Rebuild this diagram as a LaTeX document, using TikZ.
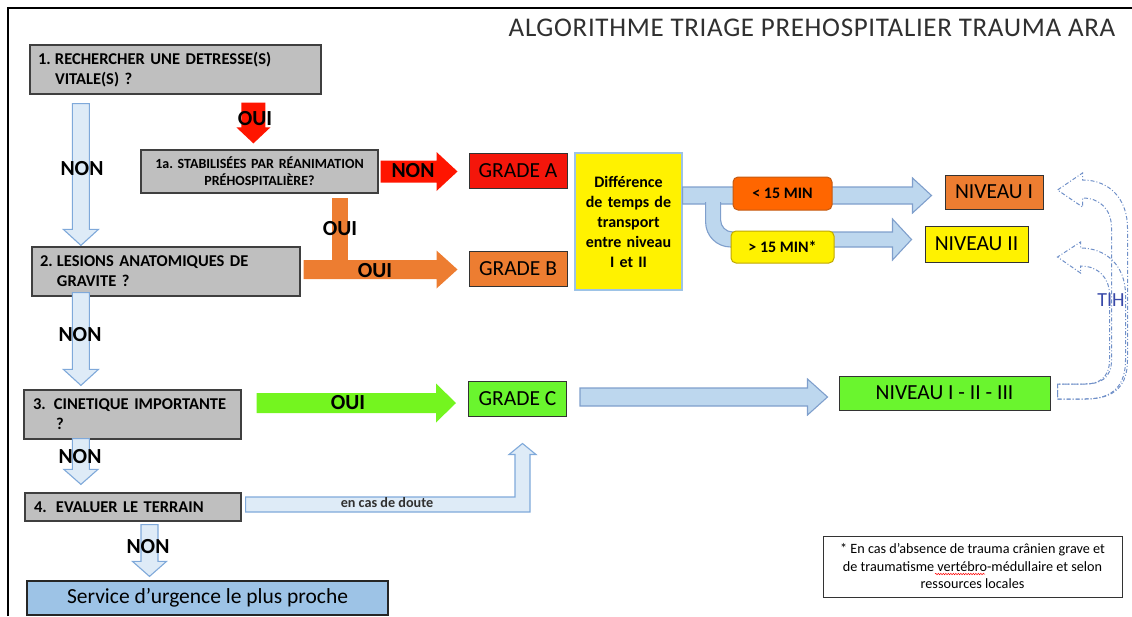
\documentclass[tikz,border=0pt]{standalone}
\usepackage{fontspec}
\setmainfont{Carlito}
\newfontfamily\titlefont[LetterSpace=2.5]{Carlito}
\usepackage{tikz}
\usetikzlibrary{calc, positioning, decorations.pathmorphing}
\frenchspacing

\definecolor{qgray}{HTML}{BFBFBF}
\definecolor{qedge}{HTML}{3F3F3F}
\definecolor{redbox}{HTML}{F4160B}
\definecolor{arrred}{HTML}{FF1500}
\definecolor{gorange}{HTML}{ED7D31}
\definecolor{greenbox}{HTML}{6AF52E}
\definecolor{arrgreen}{HTML}{74F51F}
\definecolor{diffedge}{HTML}{9DC3E6}
\definecolor{ltfill}{HTML}{FF6600}
\definecolor{ltedge}{HTML}{C55A11}
\definecolor{gtedge}{HTML}{BFA800}
\definecolor{palefill}{HTML}{DEEBF7}
\definecolor{paleedge}{HTML}{7FA9DA}
\definecolor{bluefill}{HTML}{BDD7EE}
\definecolor{blueedge}{HTML}{7F9FCC}
\definecolor{servfill}{HTML}{9DC3E6}
\definecolor{tihblue}{HTML}{3949A8}
\definecolor{tihline}{HTML}{7090C8}
\definecolor{titlegray}{HTML}{303030}

% block arrows: style, start, tip, shaft half width, head half width, head length
\newcommand{\hblock}[6]{%
  \path[#1] let \p1=(#2), \p2=(#3) in
    (\x1,\y1+#4) -- (\x2-#6,\y1+#4) -- (\x2-#6,\y1+#5) -- (\x2,\y1)
    -- (\x2-#6,\y1-#5) -- (\x2-#6,\y1-#4) -- (\x1,\y1-#4) -- cycle;}
\newcommand{\vblock}[6]{%
  \path[#1] let \p1=(#2), \p2=(#3) in
    (\x1-#4,\y1) -- (\x1-#4,\y2+#6) -- (\x1-#5,\y2+#6) -- (\x1,\y2)
    -- (\x1+#5,\y2+#6) -- (\x1+#4,\y2+#6) -- (\x1+#4,\y1) -- cycle;}

\begin{document}
\begin{tikzpicture}[x=1pt, y=-1pt,
    qbox/.style={draw=qedge, fill=qgray, line width=1.2pt, inner xsep=8pt, inner ysep=0pt,
      minimum height=49pt, align=left, font=\bfseries\fontsize{16.5}{20}\selectfont},
    grade/.style={draw=black!80, line width=1pt, minimum width=98pt, minimum height=35pt,
      inner sep=0pt, font=\fontsize{21.5}{21.5}\selectfont},
    lbl/.style={inner sep=0pt, font=\bfseries\fontsize{21.5}{21.5}\selectfont},
    timebox/.style={rounded corners=5pt, line width=1pt, minimum width=99pt, minimum height=33pt,
      inner sep=0pt, font=\bfseries\fontsize{16}{16}\selectfont},
    palearrow/.style={fill=palefill, draw=paleedge, line width=1.1pt},
    bluearrow/.style={fill=bluefill, draw=blueedge, line width=1.1pt},
    tiharrow/.style={draw=tihline, line width=1pt, dash pattern=on 4pt off 2pt on 1pt off 2pt},
  ]
  \useasboundingbox (0,0) rectangle (1132,616);
  \draw[line width=2pt] (8,616) -- (8,8) -- (1132,8);
  \node[font=\titlefont\fontsize{27}{27}\selectfont, text=titlegray, inner sep=0pt] (title) at (812,28)
    {ALGORITHME TRIAGE PREHOSPITALIER TRAUMA ARA};

  % questions
  \node[qbox, text width=275pt] (b1) at (175.5,69.5)
    {\makebox[17pt][l]{1.}RECHERCHER UNE DETRESSE(S)\\\hspace*{17pt}VITALE(S) ?};
  \node[qbox, text width=221pt, minimum height=43pt, align=center,
    font=\bfseries\fontsize{14}{17}\selectfont] (b1a) at (259.5,171.5)
    {1a. STABILISÉES PAR RÉANIMATION\\PRÉHOSPITALIÈRE?};
  \node[qbox, text width=252pt] (b2) at (166,271.5)
    {\makebox[17pt][l]{2.}LESIONS ANATOMIQUES DE\\\hspace*{17pt}GRAVITE ?};
  \node[qbox, text width=199pt, inner xsep=9pt] (b3) at (132.5,414.5)
    {\makebox[21pt][l]{3.}CINETIQUE IMPORTANTE\\\hspace*{23pt}?};
  \node[qbox, text width=198pt, inner xsep=9pt, minimum height=28pt] (b4) at (133,507)
    {\makebox[22pt][l]{4.}EVALUER LE TERRAIN};
  \node[draw=black!85, fill=servfill, line width=1.2pt, minimum width=361pt, minimum height=34pt,
    inner sep=0pt, font=\fontsize{21.5}{21.5}\selectfont] (serv) at (207.5,598)
    {Service d’urgence le plus proche};

  % grades
  \node[grade, fill=redbox] (gA) at (518,170.5) {GRADE A};
  \node[grade, fill=gorange] (gB) at (518,269) {GRADE B};
  \node[grade, fill=greenbox] (gC) at (517.5,398.5) {GRADE C};
  \node[draw=diffedge, fill=yellow, line width=1.2pt, text width=107pt, minimum height=137pt,
    inner sep=0pt, align=center, font=\bfseries\fontsize{16}{20}\selectfont] (diff) at (628.5,221.5)
    {Différence\\de temps de\\transport\\entre niveau\\I et II};

  % niveaux
  \node[grade, fill=gorange, minimum height=34pt] (nI) at (994,192) {NIVEAU I};
  \node[grade, fill=yellow, minimum width=103pt, minimum height=36pt] (nII) at (976.5,244) {NIVEAU II};
  \node[grade, fill=greenbox, minimum width=211pt, minimum height=34pt] (nAll) at (944.5,393)
    {NIVEAU I - II - III};
  \node[draw=black!80, line width=1pt, minimum width=299pt, minimum height=61pt, inner sep=0pt,
    align=center, font=\fontsize{14.2}{17.5}\selectfont] (note) at (972.5,566.5)
    {* En cas d’absence de trauma crânien grave et\\de traumatisme vertébro-médullaire et selon\\ressources locales};
  \draw[red, line width=0.5pt, decorate, decoration={snake, segment length=2.5pt, amplitude=0.7pt}]
    ($(note.center)+(-37.5,7.5)$) -- ($(note.center)+(12.5,7.5)$);

  % NON / OUI arrows
  \vblock{palearrow}{$(b1.south west)+(51.5,9)$}{$(b2.north west)+(49.5,-1)$}{8.5pt}{17.5pt}{16pt}
  \vblock{fill=arrred}{$(b1.south west)+(224,8)$}{$(b1a.north)+(0,-6)$}{12pt}{17pt}{16pt}
  \hblock{fill=arrred}{$(b1a.east)+(2,0)$}{$(gA.west)+(-11,0)$}{11pt}{19.5pt}{21pt}
  \fill[gorange] let \p1=($(b1a.south)+(80.5,4)$), \p2=($(b2.east)+(3,-2)$) in
    (\x1-8pt,\y1) rectangle (\x1+8pt,\y2);
  \hblock{fill=gorange}{$(b2.east)+(3,-2)$}{$(gB.west)+(-11,0)$}{9.5pt}{19pt}{21pt}
  \vblock{palearrow}{$(b2.south west)+(49.5,-4)$}{$(b3.north)+(0,-4)$}{8.5pt}{17.5pt}{16pt}
  \hblock{fill=arrgreen}{$(b3.east)+(15,-11.5)$}{$(gC.west)+(-12,0)$}{10pt}{19.5pt}{20pt}
  \vblock{palearrow}{$(b3.south west)+(57.5,-1)$}{$(b4.north)+(0,-8)$}{8.5pt}{17pt}{15pt}
  \vblock{palearrow}{$(b4.south)+(16.5,3)$}{$(serv.north)+(0,-4)$}{8.5pt}{17pt}{15pt}
  % en cas de doute
  \path[palearrow] let \p1=($(b4.east)+(4,-2.5)$), \p2=($(gC.south)+(5,27)$) in
    (\x1,\y1+7.5pt) -- (\x2-7.5pt,\y1+7.5pt) -- (\x2-7.5pt,\y2-11pt) -- (\x2-13.5pt,\y2-11pt)
    -- (\x2,\y2) -- (\x2+13.5pt,\y2-11pt) -- (\x2+7.5pt,\y2-11pt) -- (\x2+7.5pt,\y1-7.5pt)
    -- (\x1,\y1-7.5pt) -- cycle;

  % transport
  \hblock{bluearrow}{$(gC.east)+(13,-1.5)$}{$(nAll.west)+(-11,0)$}{9pt}{18pt}{20pt}
  \hblock{bluearrow}{$(diff.east)+(0,-26)$}{$(nI.west)+(-13,0)$}{8.5pt}{17.5pt}{19pt}
  \path[bluearrow] let \p1=($(diff.east)+(23,-19.5)$), \p2=($(nII.west)+(-13,-4.5)$) in
    (\x1+15pt,\y1) -- (\x1+15pt,\y2+19.5pt) arc[start angle=180, end angle=270, radius=12pt]
    -- (\x2-19pt,\y2+7.5pt) -- (\x2-19pt,\y2+20.5pt) -- (\x2,\y2) -- (\x2-19pt,\y2-20.5pt)
    -- (\x2-19pt,\y2-7.5pt) -- (\x1+25pt,\y2-7.5pt) arc[start angle=270, end angle=180, radius=25pt]
    -- (\x1,\y1);
  \node[timebox, fill=ltfill, draw=ltedge] (lt15) at (782.5,193.5) {< 15 MIN};
  \node[timebox, fill=yellow, draw=gtedge, minimum width=103pt, minimum height=32pt] (gt15)
    at (782.5,247) {> 15 MIN*};

  % TIH
  \begin{scope}[shift={(nAll.east)}]
    \draw[tiharrow] (7,6) -- (35,6) .. controls (65,6) and (77,-8) .. (77,-33) -- (77,-165)
      .. controls (77,-193) and (60,-213) .. (32,-213) -- (32,-220) -- (7,-203) -- (32,-186)
      -- (32,-195) .. controls (50,-195) and (61,-183) .. (61,-165) -- (61,-33)
      .. controls (61,-15) and (50,-9) .. (35,-9) -- (7,-9) -- cycle;
    \draw[tiharrow] (7,6) -- (35,6) .. controls (63,6) and (75,-8) .. (75,-33) -- (75,-98)
      .. controls (75,-128) and (55,-145) .. (30,-145) -- (30,-151) -- (7,-136) -- (30,-120)
      -- (30,-127) .. controls (48,-127) and (59,-115) .. (59,-98) -- (59,-33)
      .. controls (59,-15) and (48,-9) .. (35,-9) -- (7,-9) -- cycle;
  \end{scope}
  \node[text=tihblue, inner sep=0pt, font=\fontsize{20}{20}\selectfont] (tih) at (1111,300) {TIH};

  % labels
  \node[lbl] (nonA) at (82,169) {NON};
  \node[lbl] (ouiA) at (255,119) {OUI};
  \node[lbl] (nonB) at (413,171) {NON};
  \node[lbl] (ouiB) at (340,229) {OUI};
  \node[lbl] (ouiC) at (375,271) {OUI};
  \node[lbl] (nonC) at (80,335) {NON};
  \node[lbl] (ouiD) at (348,403) {OUI};
  \node[lbl] (nonD) at (80,457) {NON};
  \node[lbl] (nonE) at (148,547) {NON};
  \node[inner sep=0pt, text=titlegray, font=\bfseries\fontsize{14.2}{14.2}\selectfont] (doute)
    at (387,503) {en cas de doute};
\end{tikzpicture}
\end{document}
